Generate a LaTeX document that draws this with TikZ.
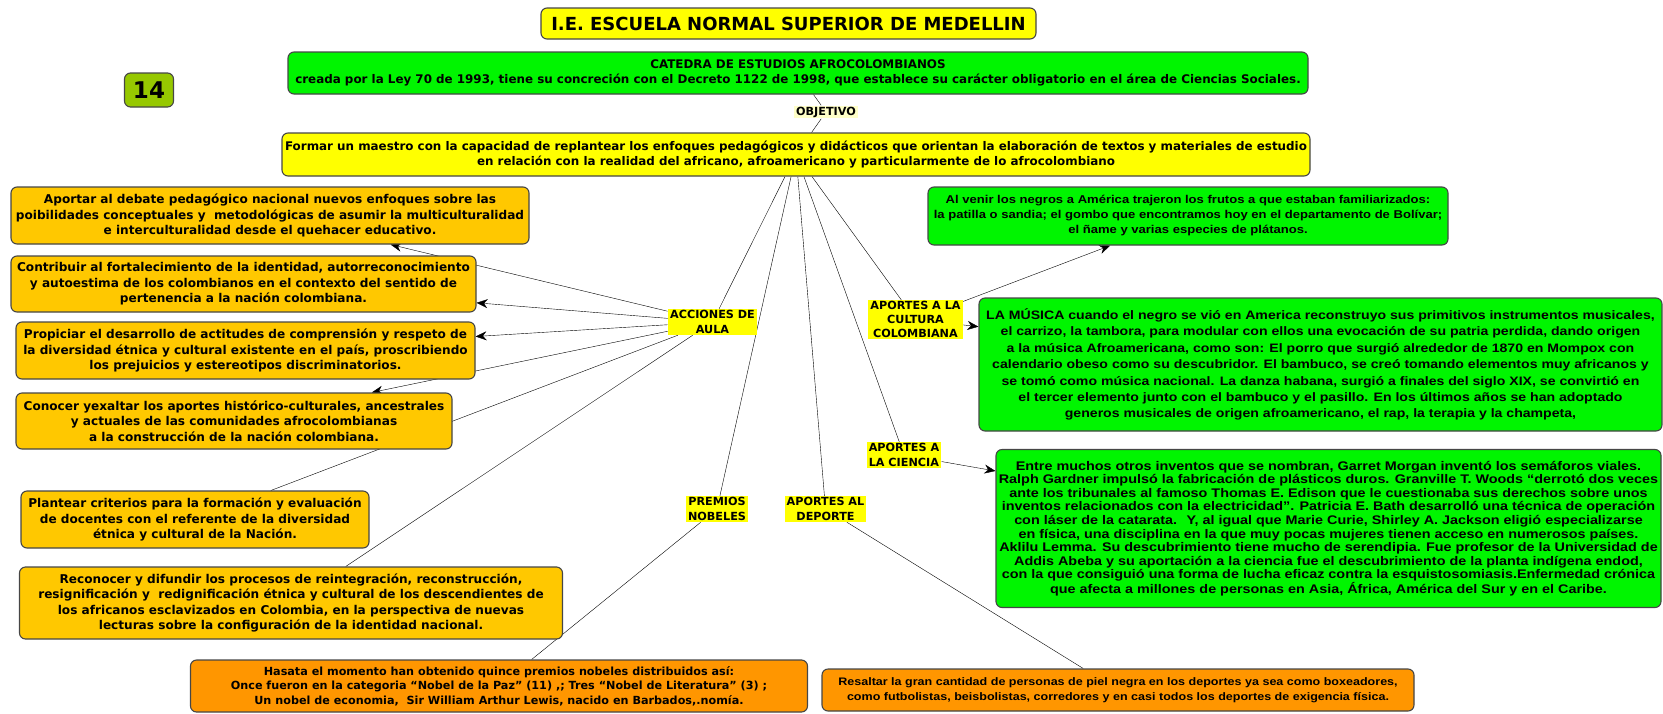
\documentclass[tikz,border=0pt]{standalone}
\usepackage{fontspec}
\setmainfont{DejaVu Sans}
\newfontfamily\narrowfont[FakeStretch=1.15]{Liberation Sans}
\usetikzlibrary{arrows.meta,backgrounds}

\definecolor{boxline}{RGB}{70,70,70}
\definecolor{cmyellow}{RGB}{255,255,0}
\definecolor{cmgreen}{RGB}{0,245,0}
\definecolor{cmgold}{RGB}{255,200,0}
\definecolor{cmorange}{RGB}{255,150,0}
\definecolor{cmlime}{RGB}{150,200,0}
\definecolor{cmpale}{RGB}{255,255,200}

\begin{document}
\begin{tikzpicture}[x=1pt, y=-1pt,
  every node/.style={align=center, inner sep=0pt,
    font=\bfseries\fontsize{11.2}{15}\selectfont},
  concept/.style={draw=boxline, line width=1.1pt, rounded corners=6pt},
  accion/.style={concept, fill=cmgold, font=\bfseries\fontsize{12.1}{15.5}\selectfont},
  narrow/.style={font=\narrowfont\bfseries\fontsize{#1}{15}\selectfont},
  link/.style={fill=cmyellow, inner xsep=2pt, inner ysep=1pt},
  arr/.style={-{Stealth[length=11pt,width=9pt]}},
  line width=1pt]
\useasboundingbox (0,0) rectangle (1663,713);

% cabecera
\node[concept, fill=cmyellow, minimum width=495, minimum height=31,
  font=\bfseries\fontsize{18}{20}\selectfont] (title) at (788.5, 23.5)
  {I.E. ESCUELA NORMAL SUPERIOR DE MEDELLIN};
\node[concept, fill=cmlime, minimum width=49, minimum height=34,
  font=\bfseries\fontsize{23}{25}\selectfont] (num) at (149, 90) {14};
\node[concept, fill=cmgreen, minimum width=1020, minimum height=42,
  font=\bfseries\fontsize{11.9}{15.5}\selectfont] (catedra) at (798, 73)
  {CATEDRA DE ESTUDIOS AFROCOLOMBIANOS\\
   creada por la Ley 70 de 1993, tiene su concreción con el Decreto 1122 de 1998, que establece su carácter obligatorio en el área de Ciencias Sociales.};
\node[link, fill=cmpale] (objetivo) at (826, 112) {OBJETIVO};
\node[concept, fill=cmyellow, minimum width=1028, minimum height=43,
  font=\bfseries\fontsize{11.9}{15.5}\selectfont] (formar) at (796, 154.5)
  {Formar un maestro con la capacidad de replantear los enfoques pedagógicos y didácticos que orientan la elaboración de textos y materiales de estudio\\
   en relación con la realidad del africano, afroamericano y particularmente de lo afrocolombiano};

% acciones de aula
\node[accion, minimum width=518, minimum height=57] (aportar) at (270, 215.5)
  {Aportar al debate pedagógico nacional nuevos enfoques sobre las\\
   poibilidades conceptuales y \ metodológicas de asumir la multiculturalidad\\
   e interculturalidad desde el quehacer educativo.};
\node[accion, minimum width=465, minimum height=56] (contribuir) at (243.5, 284)
  {Contribuir al fortalecimiento de la identidad, autorreconocimiento\\
   y autoestima de los colombianos en el contexto del sentido de\\
   pertenencia a la nación colombiana.};
\node[accion, minimum width=459, minimum height=57] (propiciar) at (245.5, 350.5)
  {Propiciar el desarrollo de actitudes de comprensión y respeto de\\
   la diversidad étnica y cultural existente en el país, proscribiendo\\
   los prejuicios y estereotipos discriminatorios.};
\node[accion, minimum width=436, minimum height=56] (conocer) at (234, 421)
  {Conocer yexaltar los aportes histórico-culturales, ancestrales\\
   y actuales de las comunidades afrocolombianas\\
   a la construcción de la nación colombiana.};
\node[accion, minimum width=348, minimum height=57] (plantear) at (195, 519.5)
  {Plantear criterios para la formación y evaluación\\
   de docentes con el referente de la diversidad\\
   étnica y cultural de la Nación.};
\node[accion, minimum width=543, minimum height=72] (reconocer) at (291, 603)
  {Reconocer y difundir los procesos de reintegración, reconstrucción,\\
   resignificación y \ redignificación étnica y cultural de los descendientes de\\
   los africanos esclavizados en Colombia, en la perspectiva de nuevas\\
   lecturas sobre la configuración de la identidad nacional.};

% premios y deporte
\node[concept, fill=cmorange, minimum width=617, minimum height=52,
  font=\bfseries\fontsize{11.2}{14.5}\selectfont] (nobel) at (499, 686)
  {Hasata el momento han obtenido quince premios nobeles distribuidos así:\\
   Once fueron en la categoria “Nobel de la Paz” (11) ,; Tres “Nobel de Literatura” (3) ;\\
   Un nobel de economia, \ Sir William Arthur Lewis, nacido en Barbados,.nomía.};
\node[concept, narrow=10.9, fill=cmorange, minimum width=592, minimum height=42] (resaltar) at (1118, 690)
  {Resaltar la gran cantidad de personas de piel negra en los deportes ya sea como boxeadores,\\
   como futbolistas, beisbolistas, corredores y en casi todos los deportes de exigencia física.};

% aportes
\node[concept, narrow=11.35, fill=cmgreen, minimum width=520, minimum height=58] (frutos) at (1188, 216)
  {Al venir los negros a América trajeron los frutos a que estaban familiarizados:\\
   la patilla o sandia; el gombo que encontramos hoy en el departamento de Bolívar;\\
   el ñame y varias especies de plátanos.};
\node[concept, fill=cmgreen, minimum width=683, minimum height=133,
  font=\narrowfont\bfseries\fontsize{12.25}{16.4}\selectfont] (musica) at (1320.5, 364.5)
  {LA MÚSICA cuando el negro se vió en America reconstruyo sus primitivos instrumentos musicales,\\
   el carrizo, la tambora, para modular con ellos una evocación de su patria perdida, dando origen\\
   a la música Afroamericana, como son: El porro que surgió alrededor de 1870 en Mompox con\\
   calendario obeso como su descubridor. El bambuco, se creó tomando elementos muy africanos y\\
   se tomó como música nacional. La danza habana, surgió a finales del siglo XIX, se convirtió en\\
   el tercer elemento junto con el bambuco y el pasillo. En los últimos años se han adoptado\\
   generos musicales de origen afroamericano, el rap, la terapia y la champeta,};
\node[concept, fill=cmgreen, minimum width=665, minimum height=158,
  font=\narrowfont\bfseries\fontsize{12.5}{13.6}\selectfont] (inventos) at (1328.5, 528.5)
  {Entre muchos otros inventos que se nombran, Garret Morgan inventó los semáforos viales.\\
   Ralph Gardner impulsó la fabricación de plásticos duros. Granville T. Woods “derrotó dos veces\\
   ante los tribunales al famoso Thomas E. Edison que le cuestionaba sus derechos sobre unos\\
   inventos relacionados con la electricidad”. Patricia E. Bath desarrolló una técnica de operación\\
   con láser de la catarata. \ Y, al igual que Marie Curie, Shirley A. Jackson eligió especializarse\\
   en física, una disciplina en la que muy pocas mujeres tienen acceso en numerosos países.\\
   Aklilu Lemma. Su descubrimiento tiene mucho de serendipia. Fue profesor de la Universidad de\\
   Addis Abeba y su aportación a la ciencia fue el descubrimiento de la planta indígena endod,\\
   con la que consiguió una forma de lucha eficaz contra la esquistosomiasis.Enfermedad crónica\\
   que afecta a millones de personas en Asia, África, América del Sur y en el Caribe.};

% frases de enlace
\node[link] (acciones) at (712.5, 322) {ACCIONES DE\\AULA};
\node[link, font=\bfseries\fontsize{11.2}{14}\selectfont] (cultura) at (915.5, 319.5) {APORTES A LA\\CULTURA\\COLOMBIANA};
\node[link, align=left] (ciencia) at (904, 455) {APORTES A\\LA CIENCIA};
\node[link] (premios) at (717, 509) {PREMIOS\\NOBELES};
\node[link] (aldeporte) at (825.5, 509) {APORTES AL\\DEPORTE};

\begin{scope}[on background layer]
\draw (catedra) -- (objetivo) -- (formar);
\foreach \t in {acciones,premios,aldeporte,ciencia,cultura}
  \draw (formar) -- (\t);
\foreach \t in {aportar,contribuir,propiciar,conocer}
  \draw[arr] (acciones) -- (\t);
\draw (acciones) -- (plantear);
\draw (acciones) -- (reconocer);
\draw[arr] (cultura) -- (frutos);
\draw[arr] (cultura) -- (musica);
\draw[arr] (ciencia) -- (inventos);
\draw (premios) -- (nobel);
\draw (aldeporte) -- (resaltar);
\end{scope}
\end{tikzpicture}
\end{document}
